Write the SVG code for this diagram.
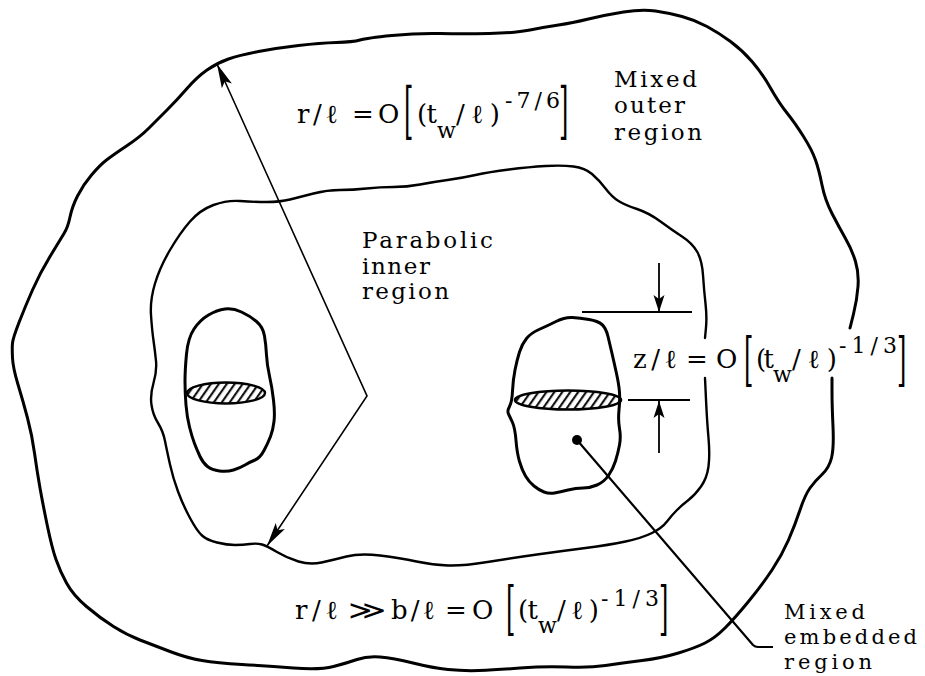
<svg xmlns="http://www.w3.org/2000/svg" width="925" height="676" viewBox="0 0 925 676">
<style>
.blob{fill:none;stroke:#000;stroke-linejoin:round;stroke-linecap:round}
.outer{stroke-width:3}
.inner{stroke-width:2.4}
.small{stroke-width:3}
.lbl{font-family:"DejaVu Serif","Liberation Serif",serif;font-size:23px;fill:#000}
.lbs{font-size:21px}
.f{font-family:"DejaVu Serif","Liberation Serif",serif;font-size:26px;fill:#000}
.sup{font-size:22px}
.sub{font-size:22px}
.br{font-size:24px}
.conn{fill:none;stroke:#000;stroke-width:1.6}
.dim{fill:none;stroke:#000;stroke-width:1.8}
.lead{fill:none;stroke:#000;stroke-width:2.2;stroke-linejoin:round}
</style>
<defs>
<marker id="ah" markerUnits="userSpaceOnUse" markerWidth="30" markerHeight="16" viewBox="-27 -8 29 16" refX="0" refY="0" orient="auto-start-reverse"><path d="M0,0 L-24,-5.5 L-19,0 L-24,5.5 Z" fill="#000"/></marker>
<marker id="ahs" markerUnits="userSpaceOnUse" markerWidth="22" markerHeight="14" viewBox="-20 -7 22 14" refX="0" refY="0" orient="auto"><path d="M0,0 L-17,-5.5 L-13,0 L-17,5.5 Z" fill="#000"/></marker>
<pattern id="hatch" patternUnits="userSpaceOnUse" width="6.5" height="10" patternTransform="rotate(35)"><line x1="3" y1="-1" x2="3" y2="11" stroke="#000" stroke-width="2"/></pattern>
</defs>
<rect width="925" height="676" fill="#fff"/>

<g id="outer-region">
<path class="blob outer" d="M832,378 L832,391.5 Q832,405 833,426.5 Q834,448 831.5,458 Q829,468 822,474.5 Q815,481 810,488 Q805,495 800,510 Q795,525 788.5,540 Q782,555 772,570 Q762,585 748.5,601.5 Q735,618 725,628 Q715,638 705,643 Q695,648 678.5,653 Q662,658 642,660.5 Q622,663 605.5,665.5 Q589,668 567,667 Q545,666 520,668 Q495,670 479,670.5 Q463,671 448,669.5 Q433,668 413,663 Q393,658 380,657 Q367,656 357,659.5 Q347,663 333.5,666.5 Q320,670 293.5,668 Q267,666 242,664.5 Q217,663 202,660.5 Q187,658 170,651.5 Q153,645 140,640 Q127,635 113.5,626.5 Q100,618 86.5,606.5 Q73,595 66.5,583 Q60,571 56,559.5 Q52,548 47.5,526.5 Q43,505 40,488 Q37,471 34.5,453 Q32,435 27.5,418 Q23,401 18,384.5 Q13,368 12.5,358 Q12,348 12.5,343 Q13,338 19,322.5 Q25,307 32.5,290 Q40,273 50,256.5 Q60,240 64,233.5 Q68,227 70,217 Q72,207 77.5,196 Q83,185 91.5,175 Q100,165 106.5,160 Q113,155 126.5,146 Q140,137 148.5,128.5 Q157,120 167,110 Q177,100 187,88.5 Q197,77 207,70 Q217,63 228.5,59 Q240,55 258.5,51.5 Q277,48 298.5,45.5 Q320,43 336.5,42.5 Q353,42 360,40 Q367,38 392,35.5 Q417,33 440,33.5 Q463,34 489,33.5 Q515,33 530,30 Q545,27 558.5,25 Q572,23 588.5,19 Q605,15 623.5,12 Q642,9 655.5,11 Q669,13 682,16.5 Q695,20 707,26.5 Q719,33 730.5,41.5 Q742,50 752,61.5 Q762,73 770.5,88 Q779,103 787,113 Q795,123 803.5,136.5 Q812,150 815.5,160 Q819,170 822,185 Q825,200 832,213.5 Q839,227 845.5,238.5 Q852,250 855.5,261.5 Q859,273 858,286.5 Q857,300 853.5,314 L850,328"/>
<text class="lbl" x="614" y="87" textLength="83">Mixed</text>
<text class="lbl" x="614" y="113" textLength="71">outer</text>
<text class="lbl" x="614" y="140" textLength="88">region</text>
<g id="formula-outer">
<text class="f" x="297" y="123" textLength="41">r/ℓ</text>
<text class="f" x="352" y="123">=</text>
<text class="f" x="378" y="123">O</text>
<text class="f br" transform="translate(404,132) scale(1,2.57)">[</text>
<text class="f" x="417" y="123" textLength="20">(t</text>
<text class="f sub" x="437" y="138" textLength="20">w</text>
<text class="f" x="456" y="123" textLength="44">/ℓ)</text>
<text class="f sup" x="505" y="108" textLength="55">-7/6</text>
<text class="f br" transform="translate(559,132) scale(1,2.57)">]</text>
</g>
<g id="formula-bottom">
<text class="f" x="295" y="619" textLength="43">r/ℓ</text>
<text class="f" x="348" y="619" textLength="38" lengthAdjust="spacingAndGlyphs">≫</text>
<text class="f" x="391" y="619" textLength="44">b/ℓ</text>
<text class="f" x="445" y="619">=</text>
<text class="f" x="472" y="619">O</text>
<text class="f br" transform="translate(506,628) scale(1,2.38)">[</text>
<text class="f" x="518" y="619" textLength="20">(t</text>
<text class="f sub" x="538" y="633" textLength="20">w</text>
<text class="f" x="557" y="619" textLength="42">/ℓ)</text>
<text class="f sup" x="601" y="606" textLength="58">-1/3</text>
<text class="f br" transform="translate(659,628) scale(1,2.38)">]</text>
</g>
</g>

<g id="inner-region">
<path class="blob inner" d="M705,378 L706,399.5 Q707,421 708.5,438 Q710,455 708.5,466.5 Q707,478 701,486.5 Q695,495 688.5,500 Q682,505 677,510 Q672,515 667,521.5 Q662,528 652,533 Q642,538 625.5,541.5 Q609,545 585.5,548 Q562,551 537,554.5 Q512,558 487.5,562 Q463,566 448,565.5 Q433,565 416.5,561.5 Q400,558 380,555.5 Q360,553 346.5,556.5 Q333,560 321.5,562.5 Q310,565 298.5,561.5 Q287,558 277,552 Q267,546 262,544.5 Q257,543 250,544 Q243,545 235,545 Q227,545 217,542.5 Q207,540 202,535.5 Q197,531 190,518 Q183,505 178,491.5 Q173,478 170,464.5 Q167,451 165,441 Q163,431 158,423 Q153,415 151.5,405 Q150,395 153.5,383 Q157,371 156,361 Q155,351 153.5,340.5 Q152,330 151,315 Q150,300 155,283.5 Q160,267 170,250 Q180,233 190,221.5 Q200,210 213.5,205 Q227,200 240,201 Q253,202 266.5,202 Q280,202 290,199.5 Q300,197 313.5,193.5 Q327,190 340,190 Q353,190 366.5,188.5 Q380,187 393.5,187 Q407,187 420,184.5 Q433,182 447.5,180 Q462,178 475.5,175 Q489,172 509,169.5 Q529,167 545.5,166 Q562,165 573.5,166.5 Q585,168 592,174 Q599,180 605.5,188.5 Q612,197 618.5,201 Q625,205 637,209 Q649,213 660.5,221.5 Q672,230 682,236.5 Q692,243 697,251.5 Q702,260 703,275 Q704,290 705.5,303.5 Q707,317 706,327.5 L705,338"/>
<text class="lbl" x="362" y="248" textLength="131">Parabolic</text>
<text class="lbl" x="362" y="274" textLength="68">inner</text>
<text class="lbl" x="362" y="299" textLength="87">region</text>
</g>

<g id="embedded-left">
<path class="blob small" d="M225,309 Q233,308 241.5,312 Q250,316 256.5,321.5 Q263,327 264.5,336 Q266,345 266.5,355 Q267,365 269.5,376 Q272,387 273.5,400 Q275,413 274,421.5 Q273,430 270.5,436.5 Q268,443 264,450.5 Q260,458 255,460 Q250,462 245,465 Q240,468 233.5,470 Q227,472 219.5,471 Q212,470 207.5,466.5 Q203,463 200,456.5 Q197,450 194.5,443.5 Q192,437 189.5,427 Q187,417 186,405 Q185,393 185,381.5 Q185,370 186.5,354 Q188,338 194,329 Q200,320 208.5,315 Q217,310 225,309 Z"/>
<ellipse cx="226" cy="393" rx="39" ry="10.5" fill="url(#hatch)" stroke="#000" stroke-width="2.4"/>
</g>

<g id="embedded-right">
<path class="blob small" d="M556,321.5 Q565,317 572.5,317.5 Q580,318 589,319.5 Q598,321 602,324.5 Q606,328 608,336.5 Q610,345 612,353.5 Q614,362 616.5,373.5 Q619,385 619.5,392.5 Q620,400 619,410 Q618,420 619.5,428.5 Q621,437 619.5,445 Q618,453 615.5,461 Q613,469 608.5,475.5 Q604,482 597,485 Q590,488 583,488 Q576,488 568,490 Q560,492 554.5,493 Q549,494 544,492 Q539,490 534,486 Q529,482 525.5,476 Q522,470 519.5,461.5 Q517,453 516,440.5 Q515,428 512.5,422.5 Q510,417 508.5,414 Q507,411 509.5,406.5 Q512,402 512.5,391 Q513,380 515,370 Q517,360 519.5,352 Q522,344 526.5,338.5 Q531,333 539,329.5 Q547,326 556,321.5 Z"/>
<ellipse cx="568" cy="400" rx="53" ry="9.5" fill="url(#hatch)" stroke="#000" stroke-width="2.6"/>
<circle cx="577" cy="440" r="5" fill="#000"/>
<text class="lbl lbs" x="784" y="619" textLength="81">Mixed</text>
<text class="lbl lbs" x="784" y="644" textLength="133">embedded</text>
<text class="lbl lbs" x="784" y="669" textLength="88">region</text>
<g id="formula-z">
<text class="f" x="633" y="368" textLength="44">z/ℓ</text>
<text class="f" x="686" y="368">=</text>
<text class="f" x="716" y="368">O</text>
<text class="f br" transform="translate(744,379) scale(1,2.43)">[</text>
<text class="f" x="756" y="368" textLength="18">(t</text>
<text class="f sub" x="773" y="382" textLength="20">w</text>
<text class="f" x="792" y="368" textLength="45">/ℓ)</text>
<text class="f sup" x="839" y="353" textLength="58">-1/3</text>
<text class="f br" transform="translate(897,379) scale(1,2.43)">]</text>
</g>
</g>

<g id="connectors">
<path class="conn" d="M217,64 L367,396 L267,546" marker-start="url(#ah)" marker-end="url(#ah)"/>
<line class="dim" x1="582" y1="312" x2="692" y2="312"/>
<line class="dim" x1="628" y1="400" x2="690" y2="400"/>
<path class="dim" d="M659,263 L659,312" marker-end="url(#ahs)"/>
<path class="dim" d="M659,453 L659,401" marker-end="url(#ahs)"/>
<path class="lead" d="M577,440 L753,645 Q755,647 758,647 L773,647"/>
</g>
</svg>
